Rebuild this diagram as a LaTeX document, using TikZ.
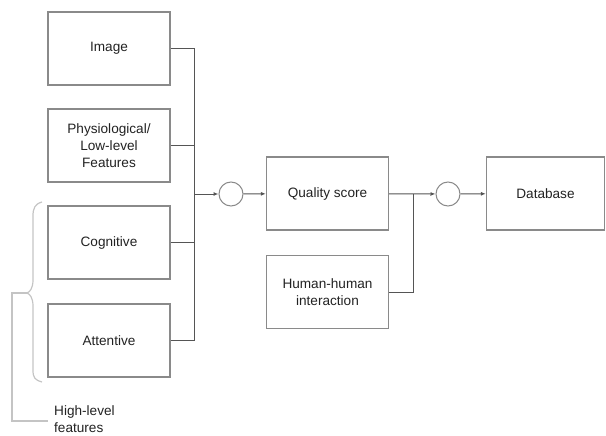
\documentclass[tikz,border=0pt]{standalone}
\usepackage{fontspec}
\setmainfont{Liberation Sans}
\usetikzlibrary{arrows.meta}
\definecolor{boxc}{HTML}{8A8A8A}
\definecolor{linec}{HTML}{555555}
\definecolor{bracec}{HTML}{C4C4C4}
\definecolor{txtc}{HTML}{222222}
\begin{document}
\begin{tikzpicture}[x=1pt,y=-1pt,
  blk/.style={draw=boxc,line width=1.3pt,rectangle,minimum width=122pt,minimum height=73pt,
    align=center,inner sep=2pt,text=txtc,font=\fontsize{13.6}{17}\selectfont},
  sumc/.style={draw=boxc,line width=1pt,circle,minimum size=24pt,inner sep=0pt},
  conn/.style={draw=linec,line width=1pt},
  arr/.style={conn,-{Latex[length=5pt,width=4pt]}},
  brc/.style={draw=bracec,line width=1.2pt}]
\useasboundingbox (0,0) rectangle (606,436);
\node[blk] (img) at (109,48.5) {Image};
\node[blk] (phys) at (109,145.5) {Physiological/\\Low-level\\Features};
\node[blk] (cog) at (109,242.5) {Cognitive};
\node[blk] (att) at (109,340.5) {Attentive};
\node[sumc] (c1) at (231,194) {};
\node[blk] (q) at (327.5,193.5) {Quality score};
\node[blk] (hum) at (327.5,292) {Human-human\\interaction};
\node[sumc] (c2) at (448,194) {};
\node[blk,minimum width=118pt] (db) at (545.5,193.5) {Database};
\coordinate (bus) at (194,194);
\coordinate (j2) at (413,194);
\draw[conn] (img.east) -| (bus);
\draw[conn] (att.east) -| (bus);
\draw[conn] (phys.east) -- (phys.east -| bus);
\draw[conn] (cog.east) -- (cog.east -| bus);
\draw[arr] (bus) -- (c1);
\draw[arr] (c1) -- (q);
\draw[arr] (q) -- (c2);
\draw[conn] (hum.east) -| (j2);
\draw[arr] (c2) -- (db);
% brace
\draw[brc] (42,202) .. controls (35,204) and (33,208) .. (33,216) -- (33,280)
  .. controls (33,288) and (30,292) .. (27,293)
  .. controls (30,294) and (33,298) .. (33,306) -- (33,370)
  .. controls (33,378) and (35,380) .. (42,382);
\coordinate (tip) at (27,293);
\draw[brc] (tip) -- (12,293) -- (12,421) -- (48,421);
\node[anchor=west,align=left,text=txtc,font=\fontsize{13.6}{17}\selectfont,inner sep=0pt] (hl) at (54,419) {High-level\\features};
\end{tikzpicture}
\end{document}
